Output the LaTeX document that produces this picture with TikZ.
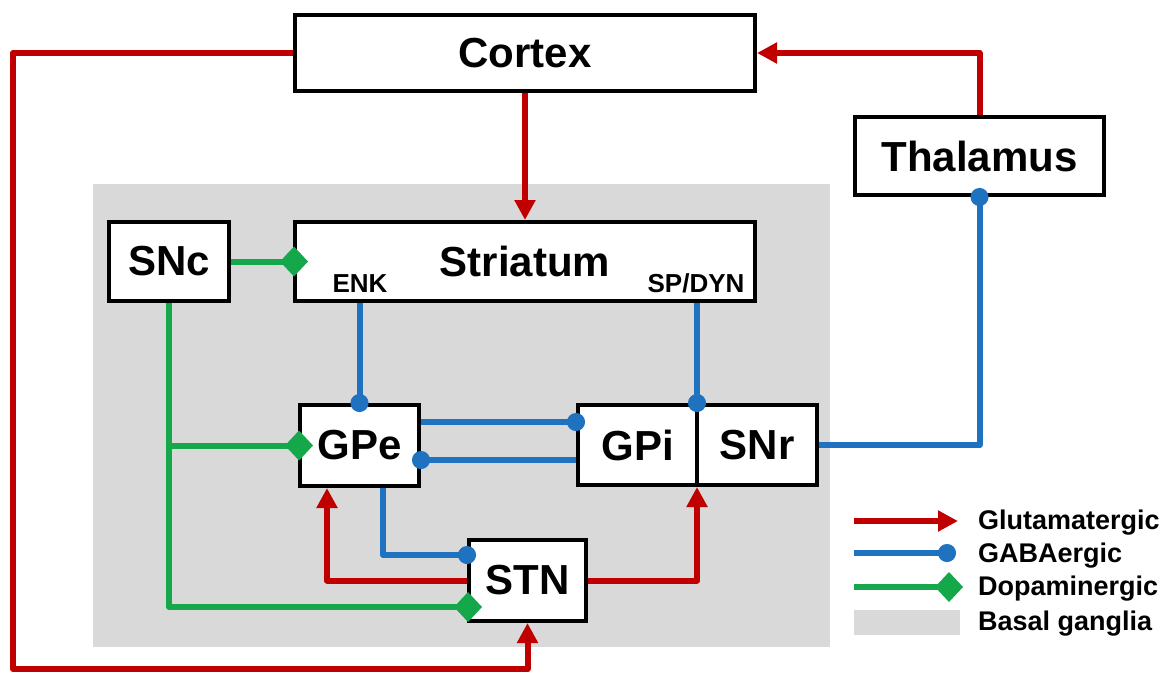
\documentclass[tikz,border=0pt]{standalone}
\usepackage{fontspec}
\setmainfont{Liberation Sans}
\usetikzlibrary{arrows.meta,calc}
\definecolor{gluc}{HTML}{C00000}
\definecolor{gabac}{HTML}{1F72C0}
\definecolor{dopac}{HTML}{14A84A}
\definecolor{bgc}{HTML}{D9D9D9}
\begin{document}
\begin{tikzpicture}[x=1pt,y=-1pt,
 box/.style={draw=black, line width=4pt, fill=white, inner sep=0pt, font=\fontsize{42}{48}\selectfont\bfseries},
 sublab/.style={inner sep=0pt, anchor=base, font=\fontsize{26}{30}\selectfont\bfseries},
 leglab/.style={inner sep=0pt, anchor=base west, font=\fontsize{27}{32}\selectfont\bfseries},
 conn/.style={line width=6pt, line join=round},
 glu/.style={conn, draw=gluc, -{Triangle[length=20pt,width=20pt]}},
 gaba/.style={conn, draw=gabac, -{Circle[length=18pt,width=18pt]}, shorten >=-9pt},
 dopa/.style={conn, draw=dopac, -{Turned Square[length=28pt,width=30pt]}, shorten >=-15pt},
]
\useasboundingbox (0,0) rectangle (1172,673);
\fill[white] (0,0) rectangle (1172,673);
% basal ganglia region
\fill[bgc] (93,184) rectangle (830,647);

% nodes
\node[box, minimum width=460pt, minimum height=76pt] (cortex) at (525,53) {Cortex};
\node[box, minimum width=249pt, minimum height=78pt] (thalamus) at (979.5,156) {Thalamus};
\node[box, minimum width=120pt, minimum height=79pt] (snc) at (169,261.5) {SNc};
\node[box, minimum width=460pt, minimum height=79pt] (striatum) at (525,261.5) {Striatum};
\node[sublab] (enk) at (360,292) {ENK};
\node[sublab] (spdyn) at (696,292) {SP/DYN};
\node[box, minimum width=119pt, minimum height=81pt] (gpe) at (359.5,445.5) {GPe};
\node[box, minimum width=119pt, minimum height=80pt] (gpi) at (637.5,445) {GPi};
\node[box, minimum width=120pt, minimum height=80pt] (snr) at (757,445) {SNr};
\node[box, minimum width=117pt, minimum height=81pt] (stn) at (527.5,580.5) {STN};
\coordinate (divn) at ($(gpi.north east)!0.5!(snr.north west)$);
\coordinate (divs) at ($(gpi.south east)!0.5!(snr.south west)$);

% glutamatergic
\draw[glu] (cortex.south) -- (cortex.south |- striatum.north);
\draw[glu] (cortex.west) -| (13,669) -| (stn.south);
\draw[glu] (thalamus.north) |- (cortex.east);
\draw[glu] (stn.west) -| (327,0 |- gpe.south);
\draw[glu] (stn.east) -| (divs);

% GABAergic
\draw[gaba] (gpe.north |- striatum.south) -- (gpe.north);
\draw[gaba] (divn |- striatum.south) -- (divn);
\draw[gaba] (gpe.east |- 0,422) -- (gpi.west |- 0,422);
\draw[gaba] (gpi.west |- 0,460) -- (gpe.east |- 0,460);
\draw[gaba] (383,0 |- gpe.south) |- (stn.west |- 0,555);
\draw[gaba] (snr.east) -| (thalamus.south);

% dopaminergic
\draw[dopa] (snc.east) -- (striatum.west);
\draw[dopa] (snc.south) |- (stn.west |- 0,607);
\draw[dopa] (snc.south |- gpe.west) -- (gpe.west);

% legend
\coordinate (lgA1) at (854,521); \coordinate (lgA2) at (958,521);
\coordinate (lgB1) at (854,553); \coordinate (lgB2) at (947,553);
\coordinate (lgC1) at (854,587); \coordinate (lgC2) at (948,587);
\draw[glu] (lgA1) -- (lgA2);
\draw[gaba] (lgB1) -- (lgB2);
\draw[dopa] (lgC1) -- (lgC2);
\fill[bgc] (854,610) rectangle (960,635);
\node[leglab] (lgglu) at (978,529) {Glutamatergic};
\node[leglab] (lggaba) at (978,562) {GABAergic};
\node[leglab] (lgdopa) at (978,595) {Dopaminergic};
\node[leglab] (lgbg) at (978,630) {Basal ganglia};
\end{tikzpicture}
\end{document}
